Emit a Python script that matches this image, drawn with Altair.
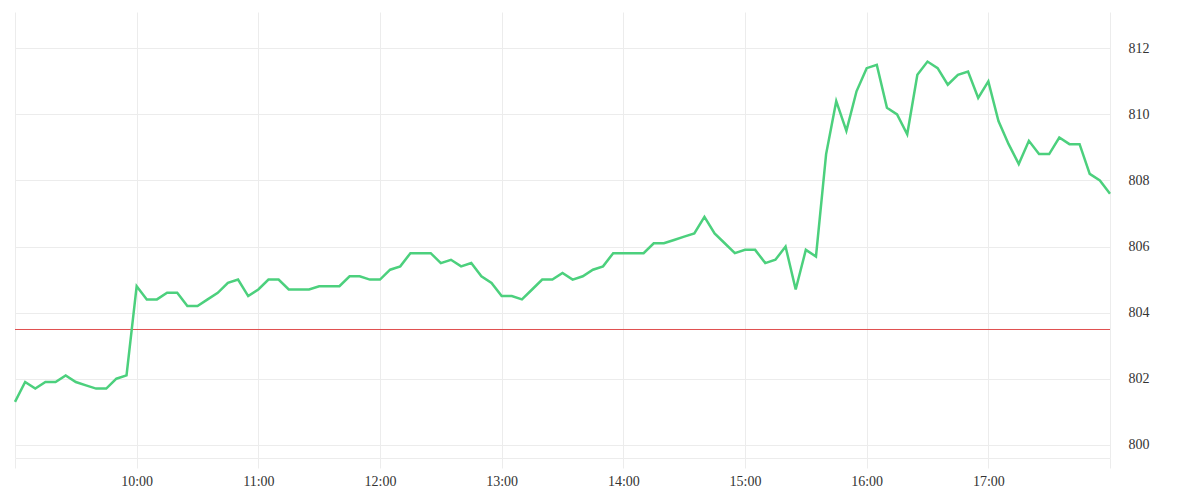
import altair as alt
import pandas as pd

# 5-minute price samples, 09:00 .. 18:00
prices = [
    801.3, 801.9, 801.7, 801.9, 801.9, 802.1, 801.9, 801.8, 801.7, 801.7, 802.0, 802.1,  # 09
    804.8, 804.4, 804.4, 804.6, 804.6, 804.2, 804.2, 804.4, 804.6, 804.9, 805.0, 804.5,  # 10
    804.7, 805.0, 805.0, 804.7, 804.7, 804.7, 804.8, 804.8, 804.8, 805.1, 805.1, 805.0,  # 11
    805.0, 805.3, 805.4, 805.8, 805.8, 805.8, 805.5, 805.6, 805.4, 805.5, 805.1, 804.9,  # 12
    804.5, 804.5, 804.4, 804.7, 805.0, 805.0, 805.2, 805.0, 805.1, 805.3, 805.4, 805.8,  # 13
    805.8, 805.8, 805.8, 806.1, 806.1, 806.2, 806.3, 806.4, 806.9, 806.4, 806.1, 805.8,  # 14
    805.9, 805.9, 805.5, 805.6, 806.0, 804.7, 805.9, 805.7, 808.8, 810.4, 809.5, 810.7,  # 15
    811.4, 811.5, 810.2, 810.0, 809.4, 811.2, 811.6, 811.4, 810.9, 811.2, 811.3, 810.5,  # 16
    811.0, 809.8, 809.1, 808.5, 809.2, 808.8, 808.8, 809.3, 809.1, 809.1, 808.2, 808.0,  # 17
    807.6,  # 18:00
]
times = pd.date_range("2024-01-02 09:00", "2024-01-02 18:00", freq="5min")
prev_close = [803.49]
y_domain = [799.6, 813.1]
y_ticks = [800, 802, 804, 806, 808, 810, 812]
hour_ticks = [9, 10, 11, 12, 13, 14, 15, 16, 17, 18]

df = pd.DataFrame({"time": times, "price": prices})
ref = pd.DataFrame({"price": prev_close})

GRID = "#ececec"
FONT = "Liberation Serif"

x_scale = alt.Scale(domain=[alt.DateTime(year=2024, month=1, date=2, hours=9),
                            alt.DateTime(year=2024, month=1, date=2, hours=18)])
y_scale = alt.Scale(domain=y_domain, nice=False, zero=False)

line = alt.Chart(df).mark_line(color="#4cd07d", strokeWidth=2.5).encode(
    x=alt.X("time:T", scale=x_scale, title=None,
            axis=alt.Axis(values=[alt.DateTime(year=2024, month=1, date=2, hours=h) for h in hour_ticks],
                          labelExpr="(hours(datum.value) == 9 || hours(datum.value) == 18) ? '' : timeFormat(datum.value, '%H:%M')",
                          grid=True, gridColor=GRID, domainColor=GRID, tickColor=GRID,
                          tickSize=10, labelPadding=6, labelFont=FONT, labelFontSize=14,
                          labelColor="#333333")),
    y=alt.Y("price:Q", scale=y_scale, title=None,
            axis=alt.Axis(orient="right", values=y_ticks, grid=True, gridColor=GRID,
                          domain=False, ticks=False, tickSize=0, labelPadding=18,
                          labelFont=FONT, labelFontSize=14, labelColor="#333333",
                          labelAlign="left")),
)

rule = alt.Chart(ref).mark_rule(color="#e04f4f", strokeWidth=1).encode(
    y=alt.Y("price:Q", scale=y_scale)
)

chart = alt.layer(rule, line).properties(
    width=1095, height=446,
    padding={"left": 2, "top": 4, "right": 5, "bottom": 5},
).configure_view(stroke=None)

chart.save("out.html", embed_options={"renderer": "svg", "actions": False})
